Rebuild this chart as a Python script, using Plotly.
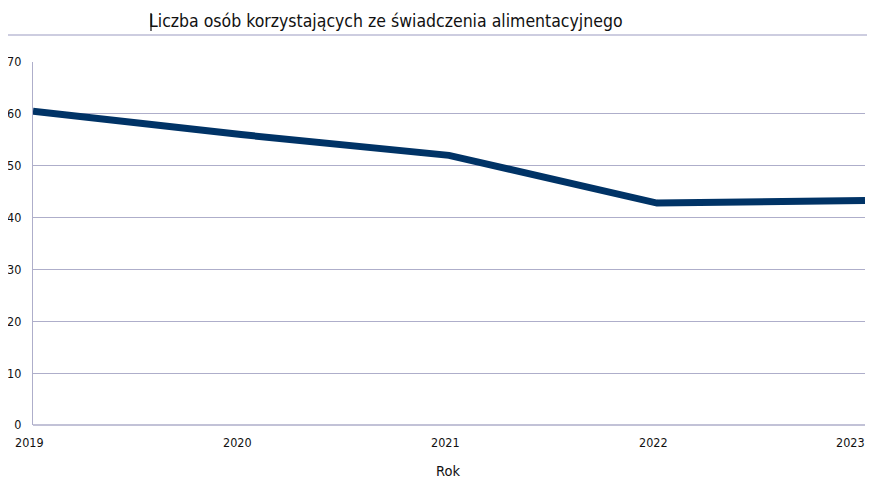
import plotly.graph_objects as go

years = [2019, 2020, 2021, 2022, 2023]
values = [60.5, 56.0, 52.0, 42.8, 43.3]
y_ticks = [0, 10, 20, 30, 40, 50, 60, 70]
x_tick_labels = ["2019", "2020", "2021", "2022", "2023"]

title_text = "Liczba osób korzystających ze świadczenia alimentacyjnego"
x_title = "Rok"

# page is rendered with an 8px body margin; size the figure to fit the window
OFF = 8
W, H = 875 - OFF, 479 - OFF
L, R, T, B = 33 - OFF, W - (865 - OFF), 62 - OFF, H - (425 - OFF)
pw = W - L - R
ph = H - T - B

grid = "#aeaeca"
font_fam = "DejaVu Sans Condensed, DejaVu Sans, sans-serif"
tick_font = dict(family=font_fam, size=12.5, color="#111111")

fig = go.Figure()
fig.add_trace(go.Scatter(
    x=years, y=values, mode="lines",
    line=dict(color="#003366", width=7),
    hoverinfo="x+y", showlegend=False,
))

def px_x(p):
    return (p - OFF - L) / pw

def px_y(p):
    return (H - B - (p - OFF)) / ph

annotations = [
    dict(text=title_text, xref="paper", yref="paper",
         x=px_x(147), y=px_y(21), xanchor="left", yanchor="middle",
         showarrow=False, font=dict(family=font_fam, size=17.5, color="#111111")),
    dict(text=x_title, xref="paper", yref="paper",
         x=px_x(448), y=px_y(471), xanchor="center", yanchor="middle",
         showarrow=False, font=dict(family=font_fam, size=14.5, color="#111111")),
]
for i, (yr, lab) in enumerate(zip(years, x_tick_labels)):
    last = i == len(years) - 1
    annotations.append(dict(
        text=lab, xref="x", yref="paper", x=yr, y=0,
        xanchor="right" if last else "center", yanchor="middle",
        xshift=2 if last else -4, yshift=-17,
        showarrow=False, font=tick_font,
    ))

fig.update_layout(
    width=W, height=H,
    margin=dict(l=L, r=R, t=T, b=B, autoexpand=False),
    paper_bgcolor="white", plot_bgcolor="white",
    font=dict(family=font_fam, size=12.5, color="#111111"),
    xaxis=dict(
        range=[2019, 2023], tickvals=years,
        showticklabels=False,
        showgrid=False, zeroline=False, showline=False,
        ticks="", automargin=False,
    ),
    yaxis=dict(
        range=[0, 70], tickvals=y_ticks,
        showgrid=True, gridcolor=grid, gridwidth=1.2,
        zeroline=False, showline=True, linecolor=grid, linewidth=1.2,
        ticks="", ticklabelstandoff=8, automargin=False,
        tickfont=tick_font,
    ),
    shapes=[
        dict(type="line", xref="paper", yref="paper",
             x0=px_x(0), x1=px_x(875), y0=px_y(35), y1=px_y(35),
             line=dict(color="#bcbcd6", width=1.5)),
        dict(type="line", xref="paper", yref="paper",
             x0=0, x1=1, y0=0, y1=0,
             line=dict(color=grid, width=1.5)),
        dict(type="line", xref="paper", yref="paper",
             x0=px_x(151), x1=px_x(151), y0=px_y(13), y1=px_y(31),
             line=dict(color="#222222", width=1.3)),
    ],
    annotations=annotations,
)

fig.write_html("out.html")
